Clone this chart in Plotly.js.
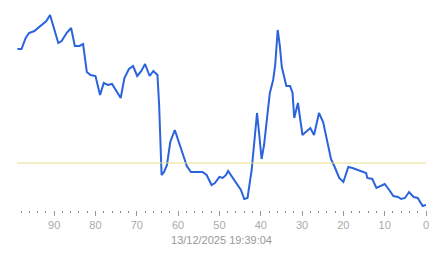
<!DOCTYPE html>
<html>
<head>
<meta charset="utf-8">
<script src="https://cdn.plot.ly/plotly-3.0.1.min.js"></script>
<style>html,body{margin:0;padding:0;background:#fff;}#chart{width:443px;height:258px;}</style>
</head>
<body>
<div id="chart"></div>
<script>
// x: minutes ago (axis reversed), y: value (arbitrary units)
const xValues = [98.9,97.9,96.9,96.1,94.8,93.7,92.7,91.9,91.0,89.9,89.0,88.2,87.0,85.9,85.0,83.9,83.0,82.1,81.2,80.0,78.9,78.0,77.0,76.0,74.9,73.9,73.0,71.9,70.9,69.9,68.9,68.0,66.9,66.0,65.0,64.6,64.0,63.4,62.7,61.9,60.8,59.7,58.8,57.9,56.9,55.7,54.1,53.1,51.9,51.1,50.0,49.2,48.4,47.9,46.8,45.8,44.8,44.0,43.2,42.2,41.6,40.9,40.4,39.8,39.2,38.5,37.8,37.0,36.5,35.9,35.4,34.9,34.3,33.8,32.9,32.3,31.9,31.3,31.0,29.9,29.0,28.0,27.1,25.9,24.9,23.8,23.0,22.0,21.0,20.0,18.8,17.8,16.6,15.4,14.5,14.2,13.0,12.0,10.9,10.0,8.9,7.9,6.8,6.0,5.1,4.1,3.0,2.0,0.8,0.0];
const yValues = [171,171,182,187,189,193,197,199,205,190,177,179,187,192,174,174,176,148,145,144,125,137,135,136,128,122,142,151,154,144,149,156,144,149,145,115,45,48,55,78,90,77,65,54,48,48,48,45,35,37,43,42,45,49,42,35,30,21,22,50,75,107,87,61,75,102,127,140,155,190,175,153,143,134,134,127,102,112,117,85,88,92,85,107,98,75,61,52,42,38,53,52,50,48,47,42,41,32,34,36,30,24,23,21,22,28,23,22,14,15];
const threshold = 57;
const xTickVals = [90,80,70,60,50,40,30,20,10,0];
const xTickText = ["90","80","70","60","50","40","30","20","10","0"];
const xTitle = "13/12/2025 19:39:04";

const trace = {
  x: xValues, y: yValues, type: 'scatter', mode: 'lines',
  line: {color: '#2a63dc', width: 2}, hoverinfo: 'skip'
};
const layout = {
  width: 443, height: 258,
  margin: {l: 17, r: 17, t: 10, b: 48},
  paper_bgcolor: '#ffffff', plot_bgcolor: '#ffffff',
  showlegend: false,
  font: {family: 'Liberation Sans, Arial, sans-serif', size: 11, color: '#999999'},
  xaxis: {
    range: [99, 0], showgrid: false, zeroline: false, showline: false,
    tickmode: 'array', tickvals: xTickVals, ticktext: xTickText,
    ticks: 'outside', ticklen: 5, tickwidth: 1, tickcolor: '#999999',
    tickfont: {size: 11, color: '#aaaaaa'},
    minor: {dtick: 2, tick0: 0, ticks: 'outside', ticklen: 2, tickwidth: 1, tickcolor: '#888888', showgrid: false},
    title: {text: xTitle, font: {size: 11, color: '#999999'}, standoff: 6}
  },
  yaxis: {range: [10, 210], visible: false, showgrid: false, zeroline: false},
  shapes: [{type: 'line', xref: 'paper', x0: 0, x1: 1, yref: 'y', y0: threshold, y1: threshold,
    line: {color: '#e8e08c', width: 1}}]
};
Plotly.newPlot('chart', [trace], layout, {displayModeBar: false, staticPlot: true});
</script>
</body>
</html>
